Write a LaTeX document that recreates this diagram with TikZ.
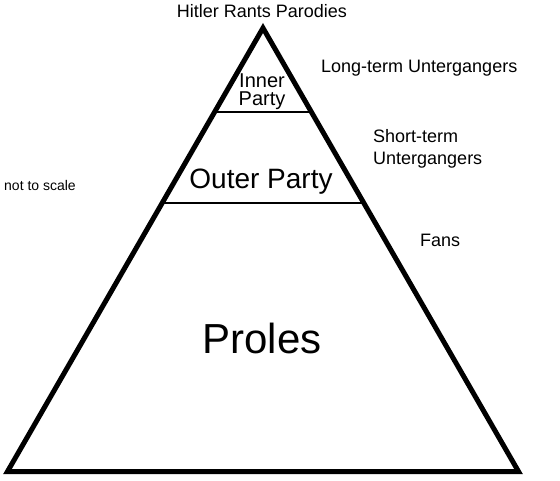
\documentclass[tikz,border=0pt]{standalone}
\usepackage{fontspec}
\setmainfont{Liberation Sans}
\usetikzlibrary{calc,positioning}
\tikzset{
every node/.style={inner sep=0pt}, % text sits right on its anchor
pyramid/.style={line width=5pt}, % outline of the whole pyramid
tier/.style={line width=2.5pt}, % lines between the layers
side/.style={font=\fontsize{18}{22}\selectfont, align=left},
}

\begin{document}
\begin{tikzpicture}[x=1pt,y=-1pt]
  \useasboundingbox (0,0) rectangle (560,480);
  \coordinate (apex) at (263,28);
  \coordinate (bl) at (7.5,471.5);
  \coordinate (br) at (518.5,471.5);
  \draw[pyramid] (apex) -- (bl) -- (br) -- cycle;
  % layers
  \draw[tier] ($(apex)!0.1894!(bl)$) -- ($(apex)!0.1894!(br)$);
  \draw[tier] ($(apex)!0.3946!(bl)$) -- ($(apex)!0.3946!(br)$);
  % texts inside
  \node[anchor=base, align=center, font=\fontsize{20}{17.5}\selectfont]
    (inner) at (262,105) {Inner\\Party};
  \node[anchor=base, font=\fontsize{28}{32}\selectfont] (outer) at (261,188) {Outer Party};
  \node[anchor=base, font=\fontsize{42}{48}\selectfont] (proles) at (262,353) {Proles};
  % texts outside
  \node[side, anchor=base] (top) at (262,17) {Hitler Rants Parodies};
  \node[side, anchor=base west] (longterm) at (321,72) {Long-term Untergangers};
  \node[side, anchor=base west] (shortterm) at (373,164) {Short-term\\Untergangers};
  \node[side, anchor=base west] (fans) at (420,246) {Fans};
  \node[anchor=base west, font=\fontsize{14}{16}\selectfont] (scale) at (4,190) {not to scale};
\end{tikzpicture}
\end{document}
